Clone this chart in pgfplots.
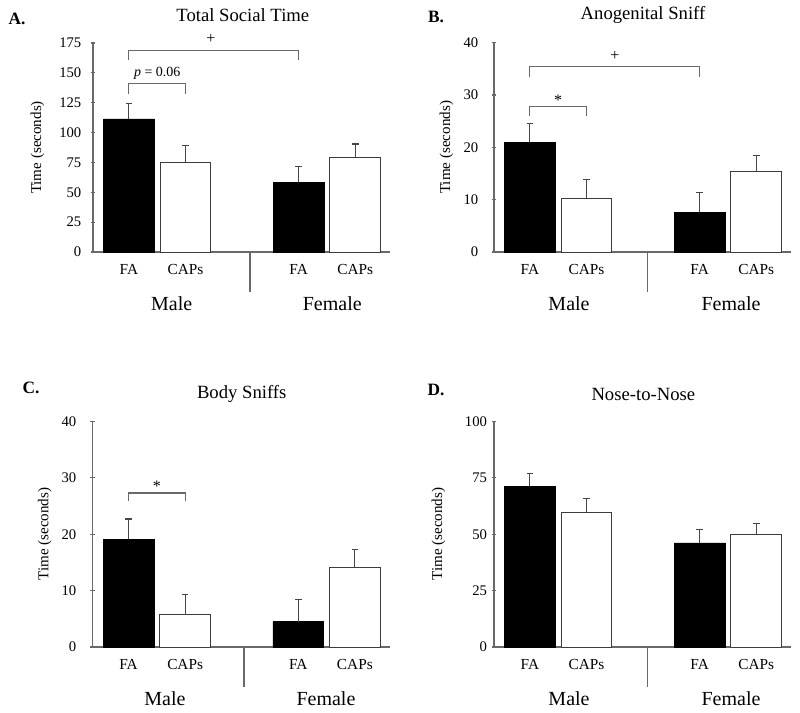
\documentclass[border=0pt]{standalone}
\usepackage{fontspec}
\setmainfont{Liberation Serif}
\usepackage{pgfplots}
\pgfplotsset{compat=1.18}

\definecolor{axgray}{RGB}{105,105,105}
\definecolor{errgray}{RGB}{70,70,70}
\definecolor{edgegray}{RGB}{60,60,60}

\pgfplotsset{
  panel/.style={
    scale only axis, width=222.75pt,
    xmin=-0.635, xmax=4.615, ymin=0,
    axis x line=bottom, axis y line=left,
    axis line style={-, draw=axgray, line width=0.9pt},
    xtick={0,1,3,4}, xticklabels={FA,CAPs,FA,CAPs},
    x tick style={draw=none},
    xticklabel style={font=\fontsize{11.5}{13}\selectfont, yshift=-4pt},
    y tick style={draw=axgray, line width=0.8pt},
    tick align=center, major tick length=3.5pt,
    yticklabel style={font=\fontsize{11}{13}\selectfont},
    /pgf/number format/assume math mode=true,
    ylabel={Time (seconds)},
    ylabel style={font=\fontsize{11.3}{13}\selectfont, anchor=center},
    clip=false,
  },
  errs/.style={error bars/.cd, y dir=plus, y explicit,
    error mark=-,
    error bar style={draw=errgray, line width=0.8pt},
    error mark options={rotate=90, draw=errgray, line width=0.8pt, mark size=2.5pt}},
  fabar/.style={ybar, bar shift=0pt, bar width=38pt, fill=black, draw=black, line width=0.6pt, errs},
  capbar/.style={ybar, bar shift=0pt, bar width=38pt, fill=white, draw=edgegray, line width=0.6pt, errs},
}
\tikzset{
  grp/.style={font=\fontsize{15}{17}\selectfont},
  brk/.style={draw=axgray, line width=0.8pt},
  sep/.style={draw=axgray, line width=0.8pt},
  sig/.style={font=\fontsize{12}{14}\selectfont},
  letter/.style={font=\fontsize{13}{15}\selectfont\bfseries},
  ttl/.style={font=\fontsize{14}{16}\selectfont},
}

\begin{document}
\begin{tikzpicture}
\path[use as bounding box] (0,0) rectangle (600pt,534.75pt);

% A. Total Social Time
\begin{axis}[panel, at={(69.75pt,345.75pt)}, anchor=south west,
  height=156.75pt, ymax=175, ytick={0,25,...,175},
  yticklabel style={xshift=-3.5pt},
  ylabel style={at={(axis description cs:-0.187,0.5)}}]
\addplot[fabar] coordinates {(0,111.4) +- (0,12.8) (3,58.4) +- (0,13.0)};
\addplot[capbar] coordinates {(1,75.4) +- (0,13.4) (4,79.3) +- (0,11.1)};
\draw[brk] (axis cs:0,161) -- (axis cs:0,169) -- (axis cs:3,169) -- (axis cs:3,161);
\node[sig] at (axis cs:1.45,178) {+};
\draw[brk] (axis cs:0,132) -- (axis cs:0,140.7) -- (axis cs:1,140.7) -- (axis cs:1,132);
\node[font=\fontsize{10.5}{12}\selectfont] at (axis cs:0.5,150) {\textit{p} = 0.06};
\draw[sep] (axis cs:2.14,0) -- ([yshift=-30pt]axis cs:2.14,0);
\node[grp] at ([yshift=-38.5pt]axis cs:0.756,0) {Male};
\node[grp] at ([yshift=-38.5pt]axis cs:3.595,0) {Female};
\end{axis}

% B. Anogenital Sniff
\begin{axis}[panel, at={(370.5pt,345.75pt)}, anchor=south west,
  height=157pt, ymax=40, ytick={0,10,...,40},
  yticklabel style={xshift=-6.5pt},
  ylabel style={at={(axis description cs:-0.160,0.5)}}]
\addplot[fabar] coordinates {(0,21.0) +- (0,3.6) (3,7.6) +- (0,3.7)};
\addplot[capbar] coordinates {(1,10.3) +- (0,3.5) (4,15.4) +- (0,3.0)};
\draw[brk] (axis cs:0,33.5) -- (axis cs:0,35.4) -- (axis cs:3,35.4) -- (axis cs:3,33.5);
\node[sig] at (axis cs:1.5,37.5) {+};
\draw[brk] (axis cs:0,26.0) -- (axis cs:0,27.8) -- (axis cs:1,27.8) -- (axis cs:1,26.0);
\node[sig] at (axis cs:0.5,29.0) {*};
\draw[sep] (axis cs:2.08,0) -- ([yshift=-30pt]axis cs:2.08,0);
\node[grp] at ([yshift=-38.5pt]axis cs:0.691,0) {Male};
\node[grp] at ([yshift=-38.5pt]axis cs:3.555,0) {Female};
\end{axis}

% C. Body Sniffs
\begin{axis}[panel, at={(69.5pt,49.5pt)}, anchor=south west,
  height=169.2pt, ymax=40, ytick={0,10,...,40},
  yticklabel style={xshift=-7pt},
  ylabel style={at={(axis description cs:-0.161,0.5)}}]
\addplot[fabar] coordinates {(0,19.1) +- (0,3.6) (3,4.5) +- (0,3.9)};
\addplot[capbar] coordinates {(1,5.7) +- (0,3.6) (4,14.2) +- (0,3.1)};
\draw[brk] (axis cs:0,25.8) -- (axis cs:0,27.3) -- (axis cs:1,27.3) -- (axis cs:1,25.8);
\node[sig] at (axis cs:0.5,28.5) {*};
\draw[sep] (axis cs:2.04,0) -- ([yshift=-30pt]axis cs:2.04,0);
\node[grp] at ([yshift=-38.5pt]axis cs:0.643,0) {Male};
\node[grp] at ([yshift=-38.5pt]axis cs:3.489,0) {Female};
\end{axis}

% D. Nose-to-Nose
\begin{axis}[panel, at={(370.5pt,49.5pt)}, anchor=south west,
  height=169.2pt, ymax=100, ytick={0,25,...,100},
  yticklabel style={xshift=0pt},
  ylabel style={at={(axis description cs:-0.187,0.5)}}]
\addplot[fabar] coordinates {(0,71.2) +- (0,5.8) (3,46.1) +- (0,6.0)};
\addplot[capbar] coordinates {(1,59.7) +- (0,6.3) (4,50.1) +- (0,4.7)};
\draw[sep] (axis cs:2.08,0) -- ([yshift=-30pt]axis cs:2.08,0);
\node[grp] at ([yshift=-38.5pt]axis cs:0.691,0) {Male};
\node[grp] at ([yshift=-38.5pt]axis cs:3.555,0) {Female};
\end{axis}

\node[letter] at (12.75pt,520.5pt) {A.};
\node[letter] at (327pt,522pt) {B.};
\node[letter] at (23.25pt,243.75pt) {C.};
\node[letter] at (327pt,242.25pt) {D.};
\node[ttl] at (182.1pt,523.5pt) {Total Social Time};
\node[ttl] at (482.25pt,523.5pt) {Anogenital Sniff};
\node[ttl] at (181.3pt,239.25pt) {Body Sniffs};
\node[ttl] at (482.5pt,239.25pt) {Nose-to-Nose};
\end{tikzpicture}
\end{document}
